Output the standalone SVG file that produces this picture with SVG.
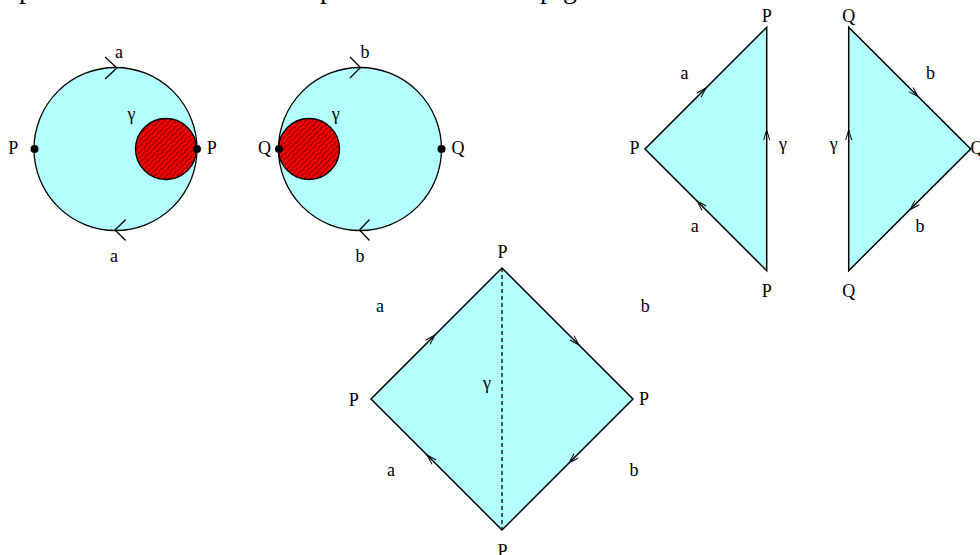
<svg xmlns="http://www.w3.org/2000/svg" xmlns:xlink="http://www.w3.org/1999/xlink" width="980" height="555" viewBox="0 0 980 555">
<style>
text{font-family:"Liberation Serif","Times New Roman",serif;font-size:18px;fill:#000;text-anchor:middle}
.big{font-size:28px}
.disk{fill:#b3ffff;stroke:#000;stroke-width:1.3}
.hole{fill:url(#hatch);stroke:#000;stroke-width:1.3}
.poly{fill:#b3ffff;stroke:#000;stroke-width:1.5;stroke-linejoin:miter}
.chev{fill:none;stroke:#000;stroke-width:1.3}
.ah{fill:none;stroke:#000;stroke-width:1}
.dash{stroke:#000;stroke-width:1.3;stroke-dasharray:4 3}
</style>
<defs>
<pattern id="hatch" patternUnits="userSpaceOnUse" width="4" height="8" patternTransform="rotate(45)">
<rect width="4" height="8" fill="#ff0000"/>
<path d="M2,0 Q3,2 2,4 Q1,6 2,8" fill="none" stroke="#000" stroke-width="0.6"/>
</pattern>
<path id="ah" class="ah" d="M-10,-3 L0,0 L-10,3"/>
</defs>
<g id="cut-text">
<text class="big" x="26" y="-2">p</text>
<text class="big" x="327" y="-2">p</text>
<text class="big" x="547" y="-2">p</text>
<text class="big" x="570" y="-2">g</text>
</g>
<g id="disk-a">
<circle class="disk" cx="115.5" cy="149" r="81.5"/>
<circle class="hole" cx="166" cy="149" r="30.5"/>
<circle cx="34.5" cy="149" r="4"/>
<circle cx="197" cy="149" r="4"/>
<path class="chev" d="M105,57 L117,68 L105,79"/>
<path class="chev" d="M125.7,219.5 L115,230 L125.7,240.5"/>
<text x="119" y="58">a</text>
<text x="114" y="261.5">a</text>
<text x="13.3" y="154">P</text>
<text x="211.7" y="154">P</text>
<text x="131.5" y="120">γ</text>
</g>
<g id="disk-b">
<circle class="disk" cx="360" cy="149" r="81.5"/>
<circle class="hole" cx="309" cy="149" r="30.5"/>
<circle cx="279" cy="149" r="4"/>
<circle cx="441.5" cy="149" r="4"/>
<path class="chev" d="M350,57 L360.5,67.5 L350,78"/>
<path class="chev" d="M369.5,219.5 L359.5,230 L369.5,240.5"/>
<text x="365" y="58">b</text>
<text x="360" y="261.5">b</text>
<text x="264.5" y="154">Q</text>
<text x="458" y="154">Q</text>
<text x="335.7" y="120">γ</text>
</g>
<g id="triangle-p">
<polygon class="poly" points="766.7,27.3 645,149 766.7,270.7"/>
<text x="766.7" y="21.7">P</text>
<text x="634.5" y="154">P</text>
<text x="766.7" y="296.5">P</text>
<text x="684.5" y="79">a</text>
<text x="694.7" y="231.7">a</text>
<text x="783" y="149.5">γ</text>
</g>
<g id="triangle-q">
<polygon class="poly" points="848.7,27.3 970.7,149 848.7,270.7"/>
<text x="848.7" y="21.7">Q</text>
<text x="848.7" y="296.5">Q</text>
<text x="970.5" y="154" style="text-anchor:start">Q</text>
<text x="930.5" y="78.5">b</text>
<text x="920" y="231.5">b</text>
<text x="833.7" y="149.5">γ</text>
</g>
<g id="square">
<polygon class="poly" points="502,268 633,399 502,530 371,399"/>
<line class="dash" x1="502" y1="268" x2="502" y2="530"/>
<text x="502.5" y="258.3">P</text>
<text x="353.8" y="406">P</text>
<text x="644" y="405">P</text>
<text x="502.5" y="556.7">P</text>
<text x="380" y="311.5">a</text>
<text x="645.3" y="311.5">b</text>
<text x="391" y="476">a</text>
<text x="634" y="476">b</text>
<text x="487" y="389">γ</text>
</g>
<g id="connectors">
<use xlink:href="#ah" transform="translate(706,88) rotate(-45)"/>
<use xlink:href="#ah" transform="translate(766.7,130) rotate(-90)"/>
<use xlink:href="#ah" transform="translate(697,201) rotate(-135)"/>
<use xlink:href="#ah" transform="translate(848.7,130) rotate(-90)"/>
<use xlink:href="#ah" transform="translate(918,96.6) rotate(45)"/>
<use xlink:href="#ah" transform="translate(910,209.7) rotate(135)"/>
<use xlink:href="#ah" transform="translate(435,335) rotate(-45)"/>
<use xlink:href="#ah" transform="translate(579,345) rotate(45)"/>
<use xlink:href="#ah" transform="translate(569,463) rotate(135)"/>
<use xlink:href="#ah" transform="translate(427,455) rotate(-135)"/>
</g>
</svg>
